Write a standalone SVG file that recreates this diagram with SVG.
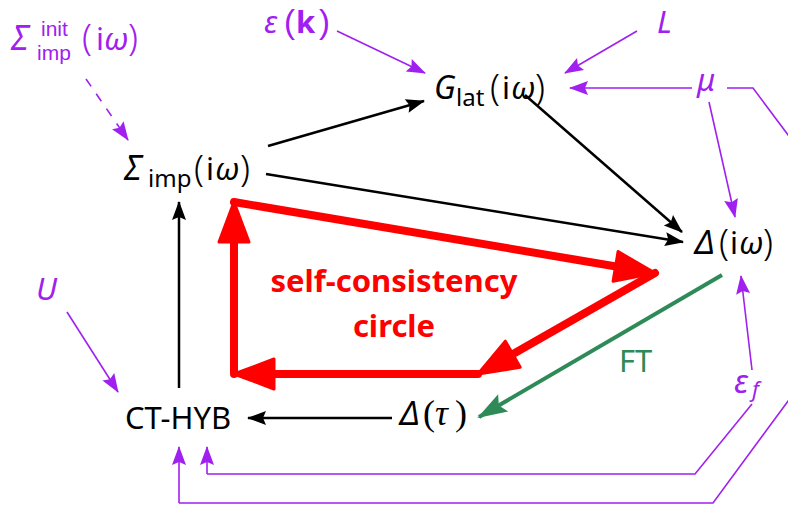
<svg xmlns="http://www.w3.org/2000/svg" width="788" height="509" viewBox="0 0 788 509">
<style>
text{font-family:"Noto Sans","DejaVu Sans",sans-serif;font-size:31px;}
.blk{fill:#000;}
.pur{fill:#A020F0;}
.it{font-style:italic;}
.big{font-size:34px;}
.sub{font-size:24px;}
.ss{font-family:"Liberation Sans",sans-serif;font-size:21px;}
.par{font-size:36px;font-weight:300;}
.bl{stroke:#000;stroke-width:2.5;fill:none;marker-end:url(#ab);}
.pl{stroke:#A020F0;stroke-width:1.6;fill:none;}
.pa{marker-end:url(#ap);}
.rd{stroke:#FF0000;stroke-width:8;fill:none;stroke-linecap:round;marker-end:url(#ar);}
</style>
<defs>
<marker id="ab" markerUnits="userSpaceOnUse" markerWidth="20" markerHeight="16" refX="18" refY="7" orient="auto" overflow="visible"><path d="M0,0 L19,7 L0,14 L3,7 z" fill="#000"/></marker>
<marker id="ap" markerUnits="userSpaceOnUse" markerWidth="20" markerHeight="16" refX="18" refY="7" orient="auto" overflow="visible"><path d="M0,0 L19,7 L0,14 L3,7 z" fill="#A020F0"/></marker>
<marker id="ag" markerUnits="userSpaceOnUse" markerWidth="32" markerHeight="22" refX="28" refY="10" orient="auto" overflow="visible"><path d="M0,0 L30,10 L0,20 L5,10 z" fill="#2E8B57"/></marker>
<marker id="ar" markerUnits="userSpaceOnUse" markerWidth="44" markerHeight="34" refX="20" refY="15" orient="auto" overflow="visible"><path d="M0,0 L40,15 L0,30 z" fill="#FF0000" stroke="#FF0000" stroke-width="3" stroke-linejoin="round"/></marker>
</defs>

<g id="connectors">
  <path class="bl" d="M268,146 L424,101"/>
  <path class="bl" d="M525,95 L682,232"/>
  <path class="bl" d="M266,174 L683,242"/>
  <path class="bl" d="M392,418 L248,418"/>
  <path class="bl" d="M179,388 L179,202"/>
  <path d="M722,275 L479,417" stroke="#2E8B57" stroke-width="4" fill="none" marker-end="url(#ag)"/>
  <path class="rd" d="M234,202 L635.3,269.7"/>
  <path class="rd" d="M655,273 L495.4,364.1"/>
  <path class="rd" d="M478,374 L254,374"/>
  <path class="rd" d="M234,374 L234,222"/>
  <path class="pl pa" d="M86,79 L128,140" stroke-dasharray="9,9"/>
  <path class="pl pa" d="M337,31 L425,73"/>
  <path class="pl pa" d="M637,31 L565,73"/>
  <path class="pl pa" d="M692,88 L570,88"/>
  <path class="pl pa" d="M709,102 L735,217"/>
  <path class="pl pa" d="M752,370 L741,276"/>
  <path class="pl pa" d="M67,312 L118,392"/>
  <path class="pl" d="M727,88 L753,88 L830,191 L830,344 L713,503 L179,503"/>
  <path class="pl pa" d="M179,503 L179,447"/>
  <path class="pl" d="M752,404 L695,474 L207,474"/>
  <path class="pl pa" d="M207,474 L207,447"/>
</g>

<g id="sigma-init">
  <text class="pur it big" x="11" y="50">Σ</text>
  <text class="pur ss" x="41" y="36">init</text>
  <text class="pur ss" x="37" y="60">imp</text>
  <text class="pur" y="50"><tspan class="par" x="82">(</tspan><tspan x="96">i</tspan><tspan class="it" x="104">ω</tspan><tspan class="par" x="128">)</tspan></text>
</g>
<g id="eps-k">
  <text class="pur" y="33"><tspan class="it" x="264">ε</tspan><tspan font-family="'Liberation Sans',sans-serif" font-size="33" x="284">(</tspan><tspan font-weight="bold" x="296">k</tspan><tspan font-family="'Liberation Sans',sans-serif" font-size="33" x="319">)</tspan></text>
</g>
<g id="L">
  <text class="pur it" x="657" y="33" font-size="29">L</text>
</g>
<g id="mu">
  <text class="pur it" x="697" y="91">μ</text>
</g>
<g id="U">
  <text class="pur it" x="36" y="300" font-size="32">U</text>
</g>
<g id="eps-f">
  <text class="pur" y="393"><tspan class="it" x="734" font-size="33">ε</tspan><tspan class="it" font-size="22" x="752" y="397">f</tspan></text>
</g>
<g id="G-lat">
  <text class="blk" y="99"><tspan class="it" x="434" font-size="32">G</tspan><tspan class="sub" x="456" y="106">lat</tspan><tspan class="par" x="490" y="100">(</tspan><tspan x="502" y="99">i</tspan><tspan class="it" x="511">ω</tspan><tspan class="par" x="535" y="100">)</tspan></text>
</g>
<g id="Sigma-imp">
  <text class="blk" y="180"><tspan class="it big" x="124">Σ</tspan><tspan class="sub" x="148" y="187">imp</tspan><tspan class="par" x="194" y="181">(</tspan><tspan x="206" y="180">i</tspan><tspan class="it" x="215">ω</tspan><tspan class="par" x="240" y="181">)</tspan></text>
</g>
<g id="Delta-iw">
  <text class="blk" y="254"><tspan class="it" x="695" font-size="33">Δ</tspan><tspan class="par" x="719" y="255">(</tspan><tspan x="730" y="254">i</tspan><tspan class="it" x="739">ω</tspan><tspan class="par" x="763" y="255">)</tspan></text>
</g>
<g id="Delta-tau">
  <text class="blk" y="425"><tspan class="it" x="400" font-size="33">Δ</tspan><tspan font-family="'Liberation Serif',serif" font-size="36" x="423">(</tspan><tspan font-family="'Liberation Serif',serif" class="it" font-size="36" x="435">τ</tspan><tspan font-family="'Liberation Serif',serif" font-size="36" x="455">)</tspan></text>
</g>
<g id="CT-HYB">
  <text class="blk" x="125" y="429" font-size="31">CT-HYB</text>
</g>
<g id="FT">
  <text x="619" y="372" fill="#2E8B57" font-size="30">FT</text>
</g>
<g id="self-consistency">
  <text x="394" y="292" text-anchor="middle" fill="#FF0000" font-weight="bold" font-size="30">self-consistency</text>
  <text x="394" y="337" text-anchor="middle" fill="#FF0000" font-weight="bold" font-size="30">circle</text>
</g>
</svg>
